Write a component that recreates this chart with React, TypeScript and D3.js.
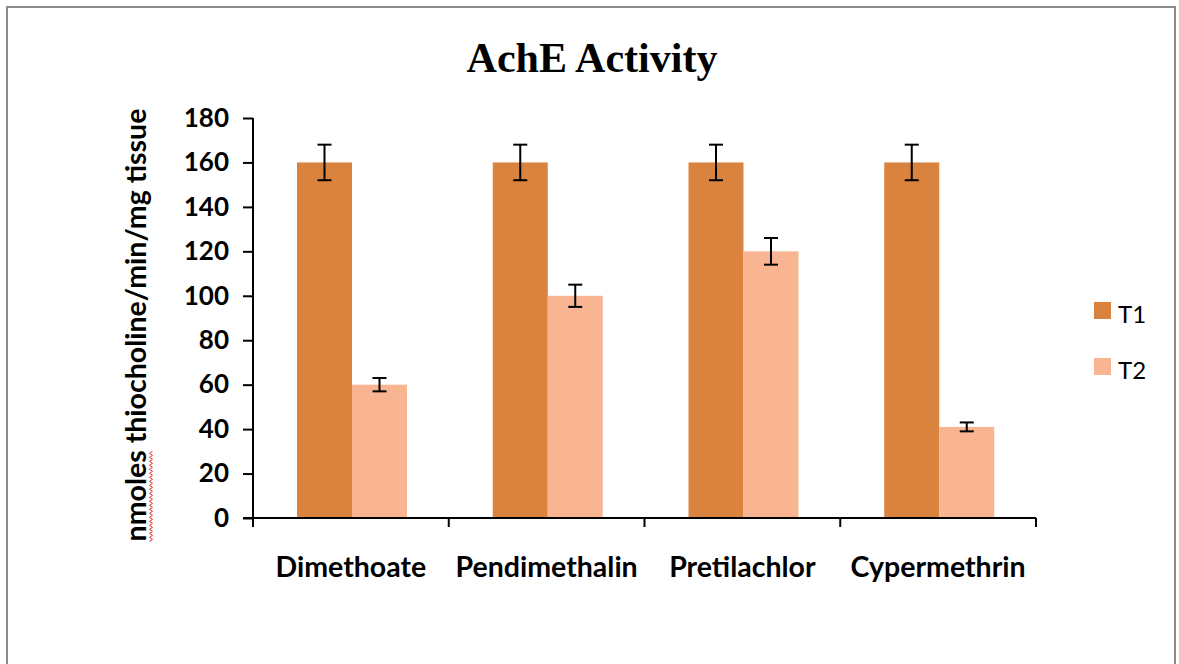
import * as d3 from "d3";
import { useEffect, useRef } from "react";

const categories = ["Dimethoate", "Pendimethalin", "Pretilachlor", "Cypermethrin"];
const seriesNames = ["T1", "T2"];
const t1Values = [160, 160, 160, 160];
const t1Errors = [8, 8, 8, 8];
const t2Values = [60, 100, 120, 41];
const t2Errors = [3, 5, 6, 2];
const yTicks = [0, 20, 40, 60, 80, 100, 120, 140, 160, 180];
const colors = ["#DA833F", "#F9B592"];

export default function App() {
  const ref = useRef<SVGSVGElement>(null);

  useEffect(() => {
    const svg = d3.select(ref.current);
    svg.selectAll("*").remove();

    const margin = { top: 118, left: 253 },
      width = 783,
      height = 400;

    const font = "Lato, 'Open Sans', sans-serif";

    // frame
    svg
      .append("rect")
      .attr("x", 7)
      .attr("y", 7)
      .attr("width", 1168)
      .attr("height", 670)
      .attr("fill", "#fff")
      .attr("stroke", "#8c8c8c")
      .attr("stroke-width", 2);

    // title
    svg
      .append("text")
      .attr("x", 592)
      .attr("y", 72)
      .attr("text-anchor", "middle")
      .attr("font-family", "'Liberation Serif', 'Times New Roman', serif")
      .attr("font-weight", "bold")
      .attr("font-size", 42)
      .text("AchE Activity");

    const g = svg.append("g").attr("transform", `translate(${margin.left},${margin.top})`);

    const x = d3.scaleBand().domain(categories).range([0, width]);
    const xs = d3.scaleBand().domain(seriesNames).range([44, 154]);
    const y = d3.scaleLinear().domain([0, 180]).range([height, 0]);

    const data = categories.map((c, i) => ({
      name: c,
      vals: [
        { s: "T1", v: t1Values[i], e: t1Errors[i] },
        { s: "T2", v: t2Values[i], e: t2Errors[i] },
      ],
    }));

    const groups = g
      .selectAll("g.cat")
      .data(data)
      .enter()
      .append("g")
      .attr("transform", (d) => `translate(${x(d.name)},0)`);

    groups
      .selectAll("rect")
      .data((d) => d.vals)
      .enter()
      .append("rect")
      .attr("x", (d) => xs(d.s)!)
      .attr("y", (d) => y(d.v))
      .attr("width", xs.bandwidth())
      .attr("height", (d) => height - y(d.v))
      .attr("fill", (d, i) => colors[i]);

    // error bars
    const eb = groups
      .selectAll("g.err")
      .data((d) => d.vals)
      .enter()
      .append("g")
      .attr("stroke", "#000")
      .attr("stroke-width", 2);
    const cx = (d: any) => xs(d.s)! + xs.bandwidth() / 2;
    const cap = 7;
    eb.append("line")
      .attr("x1", cx)
      .attr("x2", cx)
      .attr("y1", (d: any) => y(d.v + d.e))
      .attr("y2", (d: any) => y(d.v - d.e));
    eb.append("line")
      .attr("x1", (d: any) => cx(d) - cap)
      .attr("x2", (d: any) => cx(d) + cap)
      .attr("y1", (d: any) => y(d.v + d.e))
      .attr("y2", (d: any) => y(d.v + d.e));
    eb.append("line")
      .attr("x1", (d: any) => cx(d) - cap)
      .attr("x2", (d: any) => cx(d) + cap)
      .attr("y1", (d: any) => y(d.v - d.e))
      .attr("y2", (d: any) => y(d.v - d.e));

    // y axis
    const yAxis = g
      .append("g")
      .call(d3.axisLeft(y).tickValues(yTicks).tickSize(10).tickPadding(14));
    yAxis.select(".domain").attr("stroke", "#000").attr("stroke-width", 2).attr("d", `M0,0V${height}`);
    yAxis.selectAll(".tick line").attr("stroke", "#000").attr("stroke-width", 2);
    yAxis
      .selectAll(".tick text")
      .attr("font-family", font)
      .attr("font-weight", "bold")
      .attr("font-size", 26)
      .attr("fill", "#000");

    // x axis
    const xAxis = g.append("g").attr("transform", `translate(0,${height})`);
    xAxis
      .append("line")
      .attr("x1", -10)
      .attr("x2", width)
      .attr("stroke", "#000")
      .attr("stroke-width", 2);
    xAxis
      .selectAll("line.tk")
      .data([...categories.map((c) => x(c)!), width])
      .enter()
      .append("line")
      .attr("x1", (d) => d)
      .attr("x2", (d) => d)
      .attr("y1", 0)
      .attr("y2", 9)
      .attr("stroke", "#000")
      .attr("stroke-width", 2);
    xAxis
      .selectAll("text")
      .data(categories)
      .enter()
      .append("text")
      .attr("x", (d) => x(d)! + x.bandwidth() / 2)
      .attr("y", 59)
      .attr("text-anchor", "middle")
      .attr("font-family", font)
      .attr("font-weight", "bold")
      .attr("font-size", 28.5)
      .text((d) => d);

    // y label
    const yl = svg.append("g").attr("transform", "translate(146,325) rotate(-90)");
    const ylt = yl
      .append("text")
      .attr("text-anchor", "middle")
      .attr("font-family", font)
      .attr("font-weight", "bold")
      .attr("font-size", 28.5)
      .text("nmoles thiocholine/min/mg tissue");
    // spell-check squiggle under "nmoles"
    const full = (ylt.node() as SVGTextElement).getComputedTextLength();
    const tmp = yl
      .append("text")
      .attr("font-family", font)
      .attr("font-weight", "bold")
      .attr("font-size", 28.5)
      .text("nmoles");
    const wl = (tmp.node() as SVGTextElement).getComputedTextLength();
    tmp.remove();
    const x0 = -full / 2;
    const pts: [number, number][] = [];
    for (let k = 0; k * 2 <= wl; k++) pts.push([x0 + k * 2, 5 + (k % 2 ? 1.5 : -1.5)]);
    yl.append("path")
      .attr("d", d3.line()(pts))
      .attr("fill", "none")
      .attr("stroke", "#e0301e")
      .attr("stroke-width", 1);

    // legend
    const leg = svg
      .selectAll("g.leg")
      .data(seriesNames)
      .enter()
      .append("g")
      .attr("transform", (d, i) => `translate(1094,${302 + i * 56})`);
    leg.append("rect").attr("width", 17).attr("height", 17).attr("fill", (d, i) => colors[i]);
    leg
      .append("text")
      .attr("x", 24)
      .attr("y", 21)
      .attr("font-family", font)
      .attr("font-size", 24)
      .text((d) => d);
  }, []);

  return (
    <svg
      ref={ref}
      width={1179}
      height={664}
      style={{ position: "absolute", left: 0, top: 0 }}
    ></svg>
  );
}
